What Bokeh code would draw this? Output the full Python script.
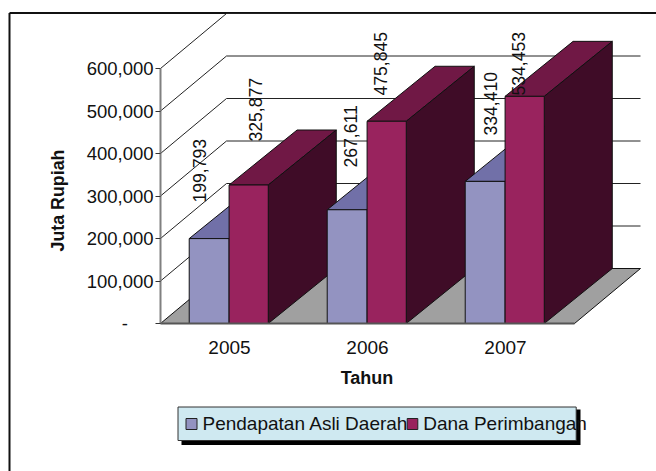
from bokeh.plotting import figure
from bokeh.models import LinearAxis, FixedTicker, NumeralTickFormatter, Range1d
from bokeh.core.properties import value
from bokeh.embed import file_html
from bokeh.resources import INLINE
import math

# ---- data ----
years = ["2005", "2006", "2007"]
pad = [199793, 267611, 334410]
dana = [325877, 475845, 534453]
pad_name = "Pendapatan Asli Daerah"
dana_name = "Dana Perimbangan"
y_ticks = [0, 100000, 200000, 300000, 400000, 500000, 600000]

# ---- layout: page pixel <-> data conversion ----
PX_X0, PX_SLOT = 160.0, 138.0     # page x of category 0 edge, slot width
PX_Y0, PX_100K = 323.0, 42.5      # page y of value 0, px per 100k
W, H = 656, 471
OX, OY = 0, 0
FONT = value("Liberation Sans")


def X(px):
    return (px - PX_X0) / PX_SLOT


def Y(py):
    return (PX_Y0 - py) / PX_100K * 100000


WALL_DX = 66 / PX_SLOT
BAR_DX = 68 / PX_SLOT
DY = 55 / PX_100K * 100000
BLUE_L, BAR_W = 0.208, 0.289
RED_W = 0.284

C_BLUE, C_BLUE_TOP, C_BLUE_SIDE = "#9393C1", "#7170A8", "#5A5A8C"
C_RED, C_RED_TOP, C_RED_SIDE = "#99235E", "#701845", "#3F0C27"
C_FLOOR, C_LEGEND = "#A0A0A0", "#CFE9F1"
C_LINE = "#111111"

p = figure(width=W, height=H, output_backend="svg", toolbar_location=None,
           x_axis_type=None, y_axis_type=None, min_border=0,
           x_range=Range1d(X(OX), X(OX + W)), y_range=Range1d(Y(OY + H), Y(OY)))
p.outline_line_color = None
p.xgrid.visible = False
p.ygrid.visible = False
p.background_fill_color = "white"
p.border_fill_color = "white"

# chart area border (left and top only are visible in the reference)
p.line([X(9), X(9)], [Y(OY + H), Y(12.5)], line_color="#111111", line_width=2)
p.line([X(9), X(OX + W)], [Y(12.5), Y(12.5)], line_color="#111111", line_width=2)

# floor
p.patch([0, 3, 3 + WALL_DX, WALL_DX], [0, 0, DY, DY],
        fill_color=C_FLOOR, line_color=C_LINE, line_width=1)

# gridlines: side wall diagonal + back wall horizontal
for v in y_ticks[1:]:
    p.line([0, WALL_DX, 3 + WALL_DX], [v, v + DY, v + DY],
           line_color="#222222", line_width=1)


def bar(x0, w, val, front, top, side):
    x1 = x0 + w
    p.patch([x0, x1, x1 + BAR_DX, x0 + BAR_DX], [val, val, val + DY, val + DY],
            fill_color=top, line_color=C_LINE, line_width=1)
    p.patch([x1, x1 + BAR_DX, x1 + BAR_DX, x1], [0, DY, val + DY, val],
            fill_color=side, line_color=C_LINE, line_width=1)
    p.patch([x0, x1, x1, x0], [0, 0, val, val],
            fill_color=front, line_color=C_LINE, line_width=1)


for i in range(len(years)):
    bar(i + BLUE_L, BAR_W, pad[i], C_BLUE, C_BLUE_TOP, C_BLUE_SIDE)
    bar(i + BLUE_L + BAR_W, RED_W, dana[i], C_RED, C_RED_TOP, C_RED_SIDE)

# axes
yax = LinearAxis(ticker=FixedTicker(ticks=y_ticks),
                 formatter=NumeralTickFormatter(format="0,0"))
yax.fixed_location = 0
yax.bounds = (0, 600000)
yax.major_label_overrides = {0: "-" + "\u00a0" * 5}
yax.axis_line_color = "#808080"
yax.axis_line_width = 2
yax.major_tick_line_color = "#333333"
yax.major_tick_out = 5
yax.major_tick_in = 0
yax.minor_tick_line_color = None
yax.major_label_standoff = 2
yax.major_label_text_font = "Liberation Sans"
yax.major_label_text_font_size = "18.5px"
yax.major_label_text_color = "#111111"
p.add_layout(yax, "left")

xax = LinearAxis(ticker=FixedTicker(ticks=[0.5, 1.5, 2.5]))
xax.fixed_location = 0
xax.bounds = (0, 3)
xax.major_label_overrides = {0.5: years[0], 1.5: years[1], 2.5: years[2]}
xax.axis_line_color = "#555555"
xax.axis_line_width = 2
xax.major_tick_line_color = None
xax.minor_tick_line_color = None
xax.major_label_standoff = 11
xax.major_label_text_font = "Liberation Sans"
xax.major_label_text_font_size = "19px"
xax.major_label_text_color = "#111111"
p.add_layout(xax, "below")

# axis titles
p.text([X(57)], [Y(200)], text=["Juta Rupiah"], angle=math.pi / 2, text_align="center",
       text_baseline="middle", text_font=FONT, text_font_size="17.8px",
       text_font_style="bold", text_color="#111111")
p.text([X(366.5)], [Y(377)], text=["Tahun"], text_align="center",
       text_baseline="middle", text_font=FONT, text_font_size="18px",
       text_font_style="bold", text_color="#111111")

# data labels (hand-placed in the reference: page x centre and page y of text start)
label_px = [199, 350, 490, 255, 380, 517.5]
label_py = [202, 167, 135, 141, 95, 95]
label_vals = pad + dana
p.text([X(a) for a in label_px], [Y(b) for b in label_py],
       text=[f"{v:,}" for v in label_vals], angle=math.pi / 2,
       text_align="left", text_baseline="middle", text_font=FONT,
       text_font_size="17.6px", text_color="#111111")

# legend
p.quad(left=[X(181)], right=[X(580)], top=[Y(409)], bottom=[Y(444.5)],
       fill_color="black", line_color=None)
p.quad(left=[X(177.5)], right=[X(575.7)], top=[Y(406.5)], bottom=[Y(440)],
       fill_color=C_LEGEND, line_color="#333333", line_width=1)
p.text([X(202), X(422.7)], [Y(423), Y(423)], text=[pad_name, dana_name],
       text_align="left", text_baseline="middle", text_font=FONT,
       text_font_size="19px", text_color="#111111")
p.quad(left=[X(185.5), X(406.7)], right=[X(196.5), X(417.3)],
       top=[Y(418), Y(418)], bottom=[Y(429), Y(429)],
       fill_color=[C_BLUE, C_RED], line_color="#222222", line_width=1)

open("out.html", "w").write(file_html(p, INLINE))
